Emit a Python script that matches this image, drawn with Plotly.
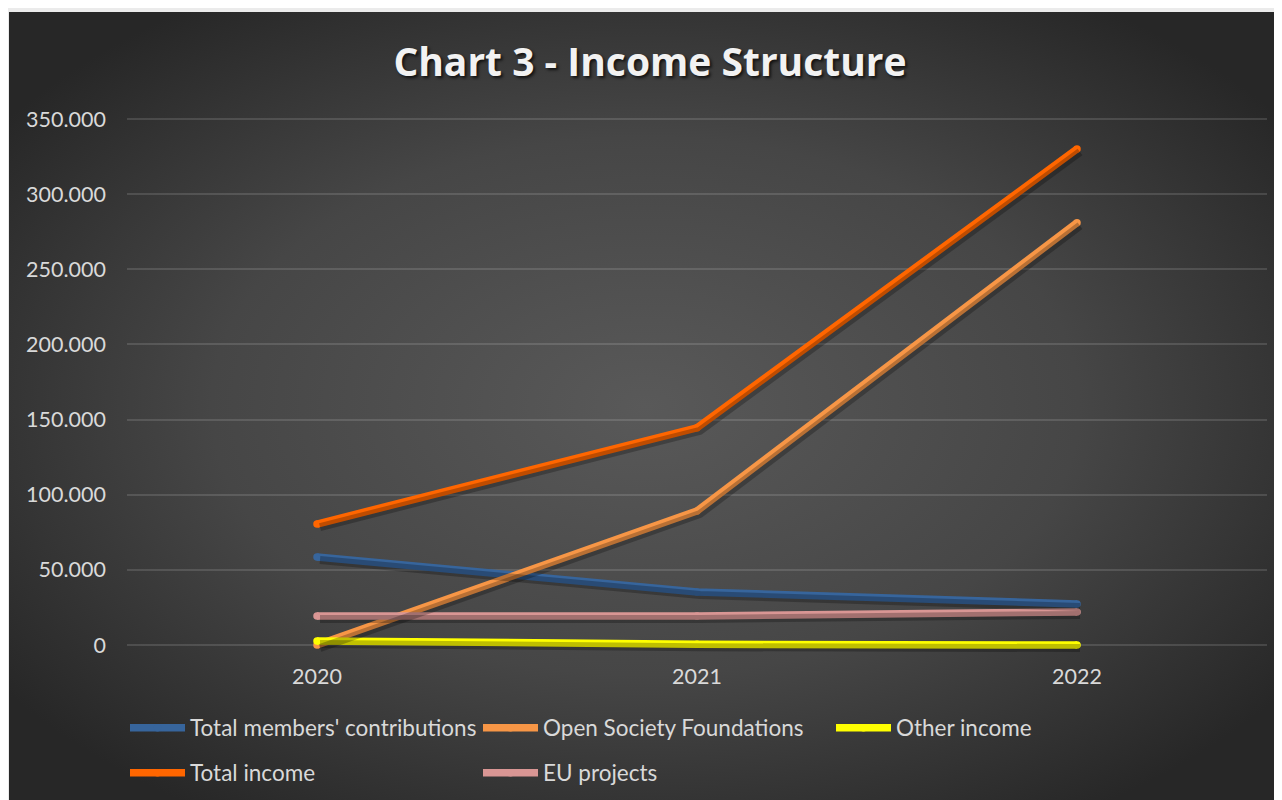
import base64
import plotly.graph_objects as go

years = ["2020", "2021", "2022"]
members = [58600, 35300, 27300]
osf = [0, 89200, 281000]
other = [2700, 500, 0]
total = [80500, 144500, 330000]
eu = [19300, 19300, 22000]

series = [
    ("Total members' contributions", members, "#37659c", "legend"),
    ("Open Society Foundations", osf, "#f79646", "legend"),
    ("Other income", other, "#ffff00", "legend"),
    ("Total income", total, "#ff6600", "legend2"),
    ("EU projects", eu, "#d99694", "legend2"),
]
ytick_vals = [0, 50000, 100000, 150000, 200000, 250000, 300000, 350000]

OFF = 8  # page body margin
W, H = 1282 - OFF, 800 - OFF
L, T = 127 - OFF, 110 - OFF
R = W - (1267 - OFF)
B = H - (652 - OFF)
pw, ph = W - L - R, H - T - B
upp = 350000 / 526.0          # value units per pixel
ymin, ymax = -7 * upp, 350000 + 9 * upp
xmin, xmax = -0.5, 2.5
xpp = 3.0 / pw

FONT = "Lato"
TXT = "#d9d9d9"

fig = go.Figure()

# shadows
for name, vals, col, lg in series:
    fig.add_trace(go.Scatter(x=years, y=vals, mode="lines", xaxis="x2", yaxis="y2",
                             line=dict(color="rgba(0,0,0,0.25)", width=8),
                             showlegend=False, hoverinfo="skip"))
# lines
for name, vals, col, lg in series:
    fig.add_trace(go.Scatter(x=years, y=vals, name=name, mode="lines+markers",
                             line=dict(color=col, width=7.5),
                             marker=dict(color=col, size=7.5, line=dict(width=0)),
                             legend=lg))

svg = '''<svg xmlns="http://www.w3.org/2000/svg" width="1273" height="788">
<defs><radialGradient id="g" cx="50%" cy="50%" r="62%">
<stop offset="0%" stop-color="#595959"/><stop offset="55%" stop-color="#464646"/>
<stop offset="100%" stop-color="#272727"/></radialGradient></defs>
<rect width="1273" height="788" fill="url(#g)"/></svg>'''
src = "data:image/svg+xml;base64," + base64.b64encode(svg.encode()).decode()

def px_x(p):  # page pixel -> paper x
    return (p - OFF - L) / pw

def px_y(p):  # page pixel -> paper y
    return (H - B - (p - OFF)) / ph

leg_common = dict(orientation="h", xanchor="left", yanchor="middle", entrywidth=283,
                  itemwidth=55, font=dict(family=FONT, size=22.5, color=TXT),
                  bgcolor="rgba(0,0,0,0)")

fig.update_layout(
    width=W, height=H,
    margin=dict(l=L, r=R, t=T, b=B, autoexpand=False),
    paper_bgcolor="#ebebeb",
    plot_bgcolor="rgba(0,0,0,0)",
    separators=",.",
    font=dict(family=FONT, size=21.5, color=TXT),
    images=[dict(source=src, xref="paper", yref="paper", x=px_x(9), y=px_y(12),
                 sizex=1273 / pw, sizey=788 / ph, xanchor="left", yanchor="top",
                 sizing="stretch", layer="below")],
    title=dict(text="<b>Chart 3 - Income Structure</b>", x=(650 - OFF) / W,
               xanchor="center", y=1 - (62 - OFF) / H, yanchor="middle",
               yref="container",
               font=dict(family="Open Sans", size=39, color="#f2f2f2",
                         shadow="2px 2px 3px rgba(0,0,0,0.7)")),
    xaxis=dict(type="category", range=[xmin, xmax], showgrid=False, zeroline=False,
               showline=False, ticks="", tickfont=dict(size=21.5, color=TXT),
               ticklabelstandoff=9, automargin=False),
    yaxis=dict(range=[ymin, ymax], tickvals=ytick_vals, tickformat=",.0f",
               showgrid=True, gridcolor="rgba(255,255,255,0.13)", gridwidth=2,
               zeroline=False, showline=False, ticks="", automargin=False,
               tickfont=dict(size=21.5, color=TXT), ticklabelstandoff=20),
    xaxis2=dict(type="category", overlaying="x", range=[xmin - 3 * xpp, xmax - 3 * xpp],
                visible=False),
    yaxis2=dict(overlaying="y", range=[ymin + 3 * upp, ymax + 3 * upp], visible=False),
    legend=dict(x=px_x(125), y=px_y(728), **leg_common),
    legend2=dict(x=px_x(125), y=px_y(773), **leg_common),
    showlegend=True,
)

fig.write_html("out.html")
